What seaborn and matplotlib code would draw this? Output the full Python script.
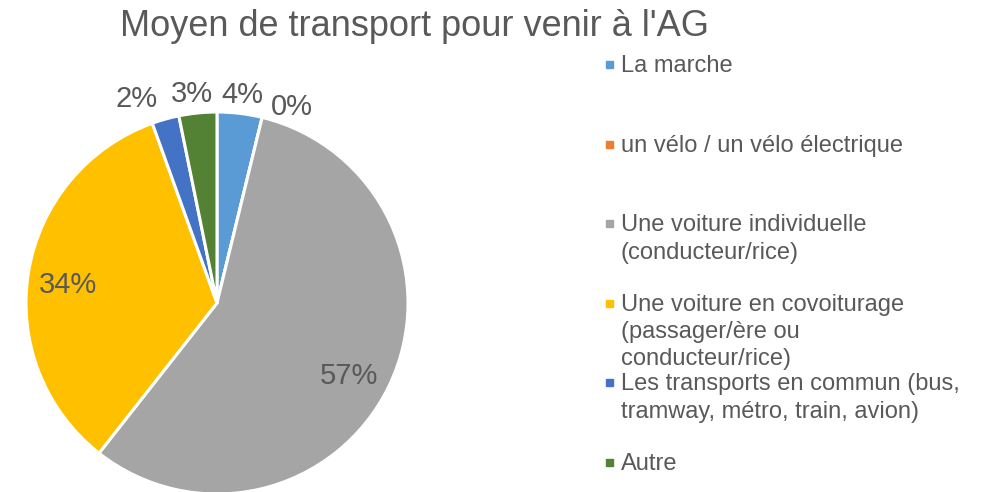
import numpy as np
import seaborn as sns
import matplotlib.pyplot as plt

# data (share of answers, %)
categories = ['La marche',
              'un vélo / un vélo électrique',
              'Une voiture individuelle\n(conducteur/rice)',
              'Une voiture en covoiturage\n(passager/ère ou\nconducteur/rice)',
              'Les transports en commun (bus,\ntramway, métro, train, avion)',
              'Autre']
shares = [3.8, 0.0, 56.8, 33.9, 2.3, 3.2]
colors = ['#5B9BD5', '#ED7D31', '#A5A5A5', '#FFC000', '#4472C4', '#548235']
title = "Moyen de transport pour venir à l'AG"

sns.set_style('white')
plt.rcParams['font.family'] = ['Liberation Sans', 'DejaVu Sans']
txt = '#595959'

W, H = 984, 492
fig = plt.figure(figsize=(W / 100, H / 100), dpi=100)

# pie axes placed in pixels: centre (217, 303), radius 191
cx, cy, r = 217, 303, 191
half = r * 1.05
ax = fig.add_axes([(cx - half) / W, (H - cy - half) / H, 2 * half / W, 2 * half / H])
wedges, _ = ax.pie(shares, colors=colors, startangle=90, counterclock=False,
                   wedgeprops=dict(edgecolor='white', linewidth=2.2))
ax.set_xlim(-1.05, 1.05)
ax.set_ylim(-1.05, 1.05)
ax.set_aspect('equal')

# percentage labels (Excel "best fit" style)
label_dist = [1.11, 1.115, 0.78, 0.79, 1.16, 1.12]
angle_shift = [0, -7, -2, 1, 5.5, 1]
for w, s, d, sh in zip(wedges, shares, label_dist, angle_shift):
    mid = np.deg2rad((w.theta1 + w.theta2) / 2 + sh)
    ax.text(d * np.cos(mid), d * np.sin(mid), f'{s:.0f}%', ha='center',
            va='center_baseline', fontsize=21, color=txt, clip_on=False)

fig.text(415 / W, 1 - 36 / H, title, ha='center', va='baseline',
         fontsize=26, color=txt)

# legend: one slot per entry, evenly spaced like Excel
first_base = 72
slot = 79.6
line_h = 27.3
for i, (lab, c) in enumerate(zip(categories, colors)):
    base = first_base + i * slot
    fig.patches.append(plt.Rectangle(((606) / W, 1 - (base - 4) / H), 7 / W, 7 / H,
                                     transform=fig.transFigure, color=c))
    for j, line in enumerate(lab.split('\n')):
        fig.text(621 / W, 1 - (base + j * line_h) / H, line, ha='left',
                 va='baseline', fontsize=17, color=txt)

fig.savefig('out.png', dpi=100)
